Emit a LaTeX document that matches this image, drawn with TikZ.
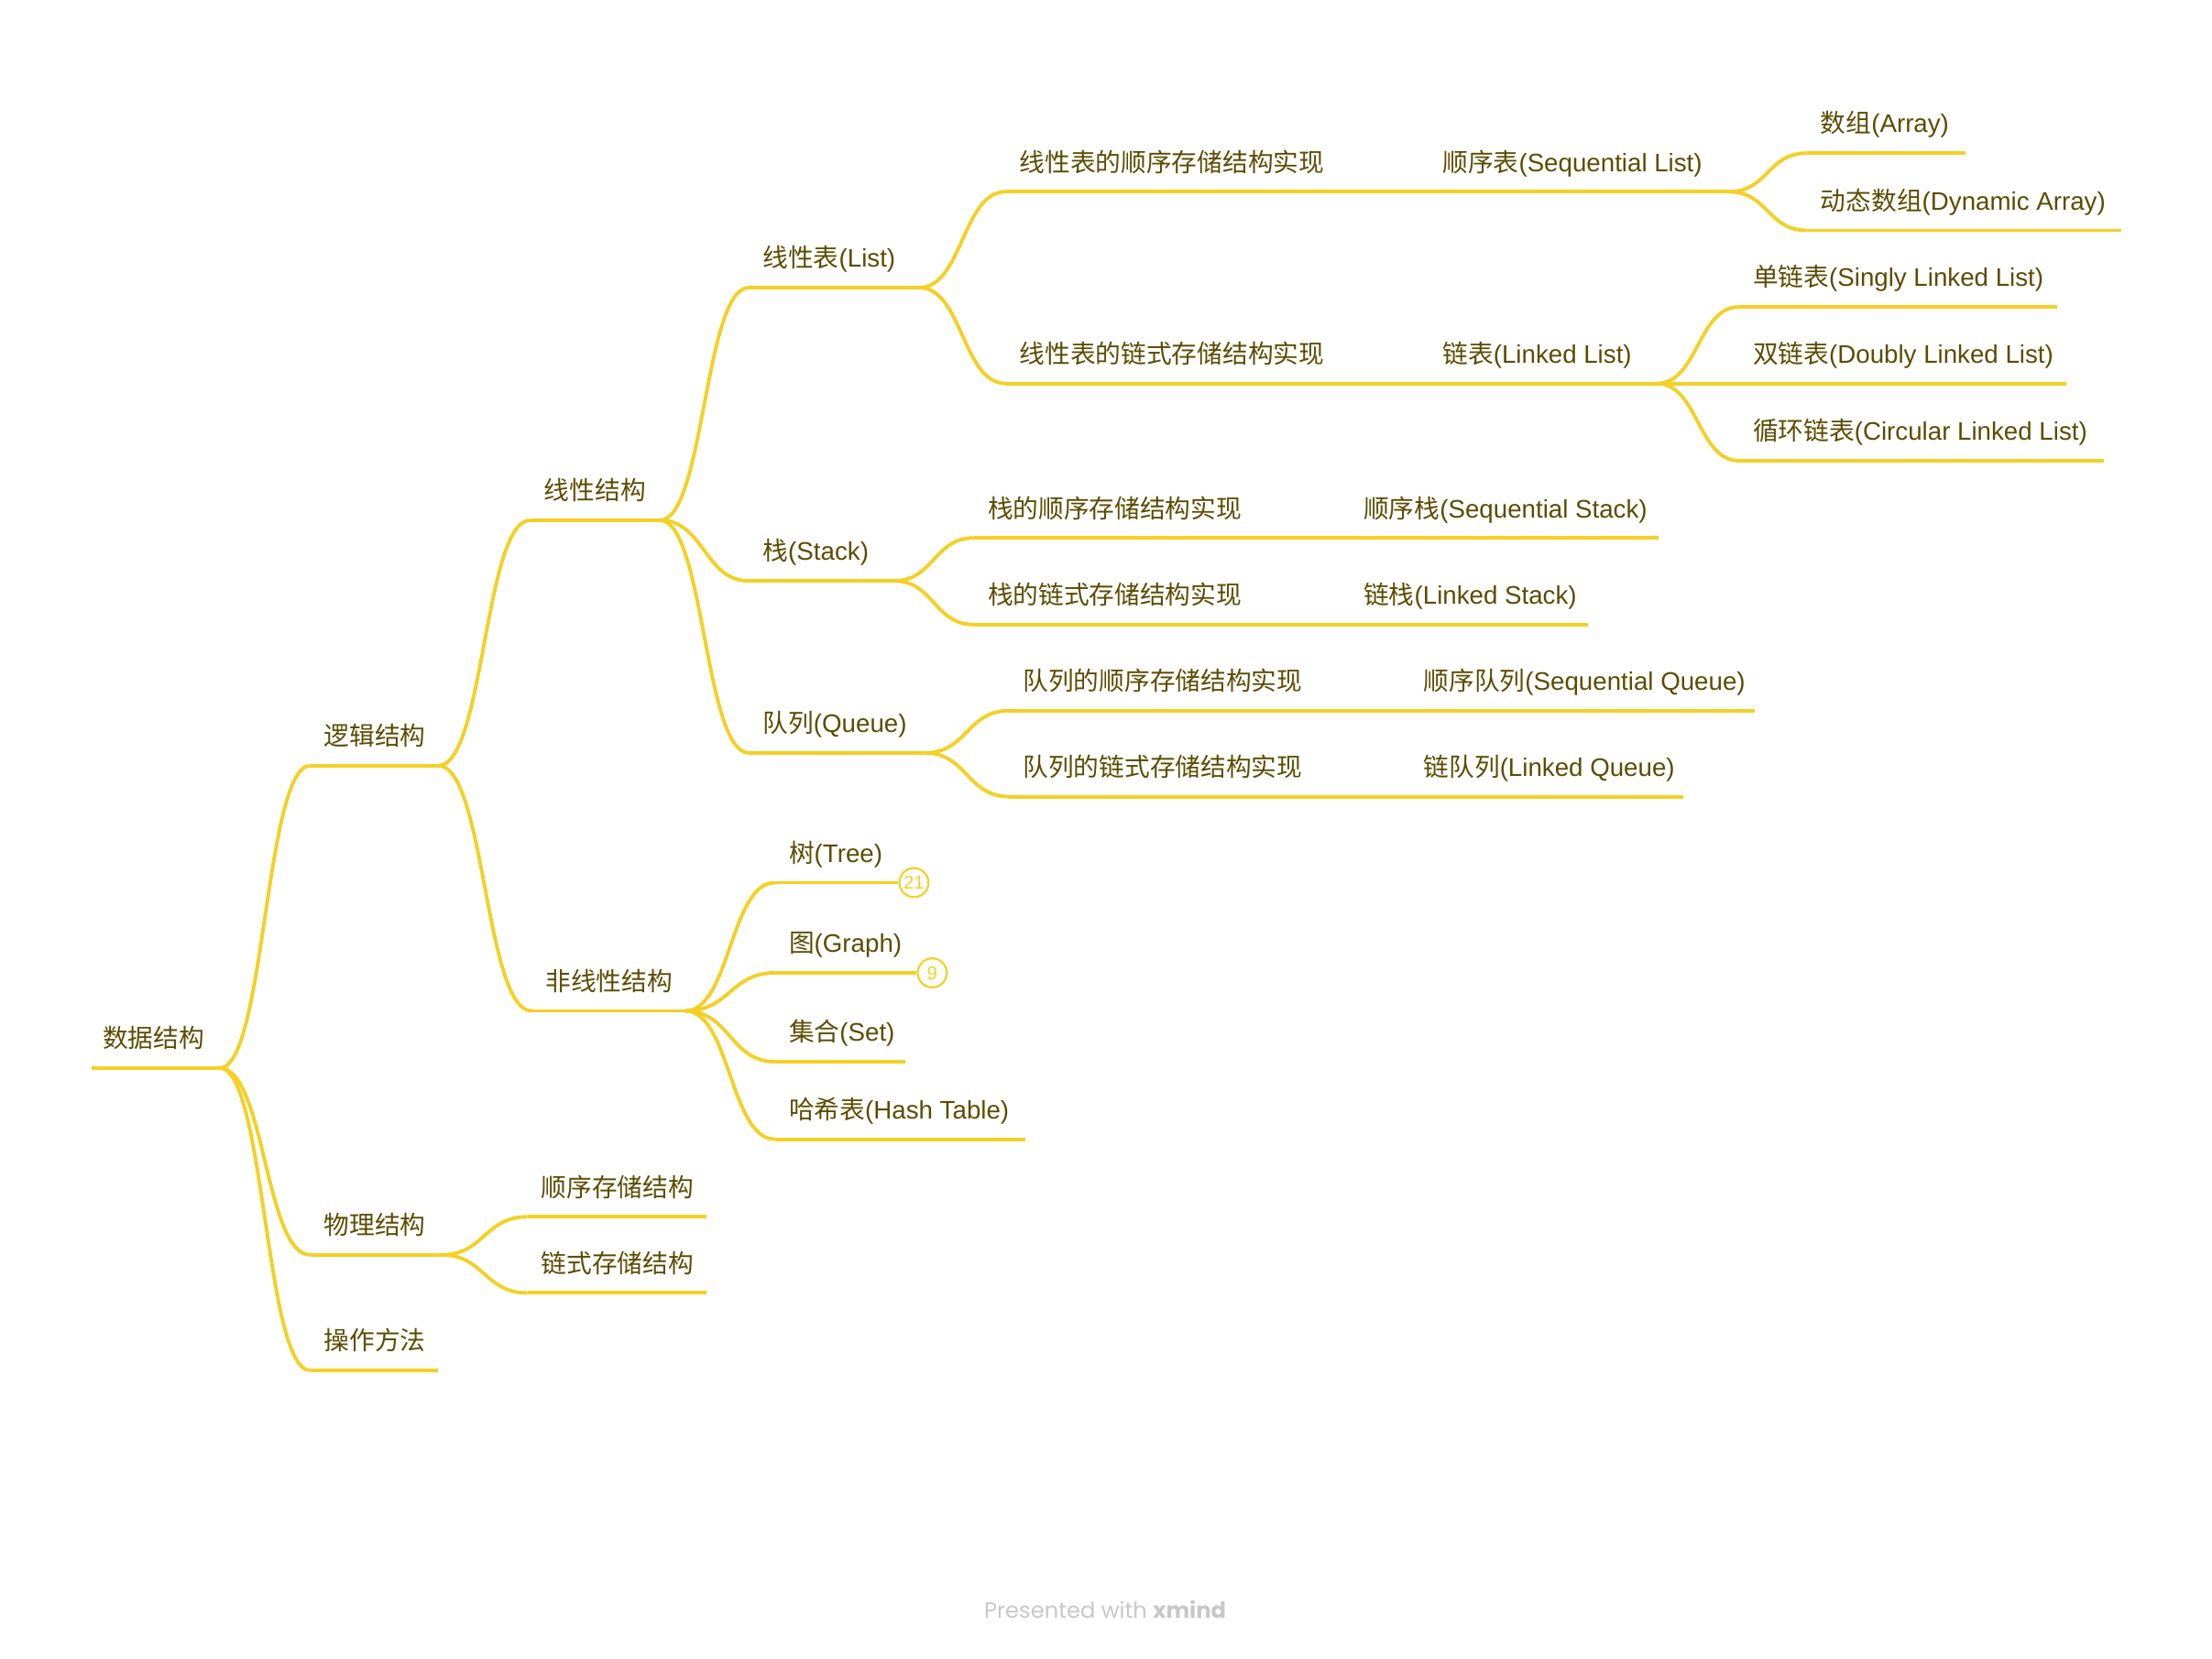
\documentclass[tikz,border=0pt]{standalone}
\usepackage{fontspec}
\setmainfont{Liberation Sans}
\newfontfamily\cjk{Noto Sans CJK SC}
\newfontfamily\footfont{Poppins}
\usetikzlibrary{calc}
\definecolor{txt}{RGB}{92,76,0}
\definecolor{ln}{RGB}{244,208,36}
\definecolor{foot}{RGB}{200,200,200}
\newcommand\zh[1]{{\cjk #1}}
\tikzset{
  topic/.style={anchor=south west, inner xsep=4.75pt, inner ysep=0pt,
    text depth=7pt, text height=10pt, font=\fontsize{9}{11}\selectfont, text=txt},
  ul/.style={draw=ln, line width=1.25pt},
  badge/.style={circle, draw=ln, line width=0.7pt, fill=white, minimum size=10.3pt,
    inner sep=0pt, text=ln, font=\fontsize{6.6}{7}\selectfont},
}
\newcommand\mmtopic[5]{%
  \pgfmathsetmacro\mmw{(#3-#2-19)*0.5}%
  \node[topic] (#1) at (#2,#4) {\makebox[\mmw pt][l]{#5}};%
}
\newcommand\mmul[1]{\draw[ul] (#1.south west) -- (#1.south east);}
\newcommand\mmlink[2]{\draw[ul] let \p1=(#1.south east), \p2=(#2.south west) in
  (\p1) .. controls ($(\p1)+({(\x2-\x1)/2},0pt)$) and ($(\p2)+({(\x1-\x2)/2},0pt)$) .. (\p2);}
\begin{document}
\begin{tikzpicture}[x=0.5pt,y=-0.5pt]
\fill[white] (0,0) rectangle (1568.4,1176);
\useasboundingbox (0,0) rectangle (1568.4,1176);
% root and level 1
\mmtopic{root}{65}{155}{757.5}{\hspace{-1pt}\zh{数据结构}}
\mmtopic{logic}{220}{310}{543}{\zh{逻辑结构}}
\mmtopic{phys}{220}{312}{890}{\zh{物理结构}}
\mmtopic{ops}{220}{310}{972}{\zh{操作方法}}
% level 2
\mmtopic{lin}{376}{467}{369}{\zh{线性结构}}
\mmtopic{nonlin}{377}{485}{717}{\zh{非线性结构}}
\mmtopic{seqst}{374}{500}{863}{\zh{顺序存储结构}}
\mmtopic{linkst}{374}{500}{917}{\zh{链式存储结构}}
% level 3
\mmtopic{list}{531}{651}{204}{\zh{线性表}(List)}
\mmtopic{stack}{531}{633}{412}{\zh{栈}(Stack)}
\mmtopic{queue}{531}{655}{534}{\zh{队列}(Queue)}
\mmtopic{tree}{549.5}{634}{626}{\zh{树}(Tree)}
\mmtopic{graph}{549.5}{647}{690}{\zh{图}(Graph)}
\mmtopic{set}{549.5}{641}{753}{\zh{集合}(Set)}
\mmtopic{hash}{549.5}{726}{808}{\zh{哈希表}(Hash Table)}
% level 4
\mmtopic{lseq}{713}{948}{136}{\zh{线性表的顺序存储结构实现}}
\mmtopic{llink}{713}{948}{272}{\zh{线性表的链式存储结构实现}}
\mmtopic{sseq}{690.5}{890}{381.5}{\zh{栈的顺序存储结构实现}}
\mmtopic{slink}{690.5}{890}{443}{\zh{栈的链式存储结构实现}}
\mmtopic{qseq}{715.5}{932.5}{504}{\zh{队列的顺序存储结构实现}}
\mmtopic{qlink}{715.5}{932.5}{565}{\zh{队列的链式存储结构实现}}
% level 5
\mmtopic{seqlist}{1013}{1225}{136}{\zh{顺序表}(Sequential List)}
\mmtopic{linklist}{1013}{1174}{272}{\zh{链表}(Linked List)}
\mmtopic{seqstack}{957}{1175}{381.5}{\zh{顺序栈}(Sequential Stack)}
\mmtopic{linkstack}{957}{1125}{443}{\zh{链栈}(Linked Stack)}
\mmtopic{seqqueue}{999.5}{1243.5}{504}{\zh{顺序队列}(Sequential Queue)}
\mmtopic{linkqueue}{999.5}{1193}{565}{\zh{链队列}(Linked Queue)}
% level 6
\mmtopic{array}{1281}{1393}{108.6}{\zh{数组}(Array)}
\mmtopic{dynarr}{1281}{1503}{163.4}{\zh{动态数组}(Dynamic Array)}
\mmtopic{single}{1233}{1458}{217.7}{\zh{单链表}(Singly Linked List)}
\mmtopic{double}{1233}{1464.5}{272}{\zh{双链表}(Doubly Linked List)}
\mmtopic{circ}{1233}{1490.6}{326.8}{\zh{循环链表}(Circular Linked List)}
% underlines
\foreach \n in {root,logic,phys,ops,lin,nonlin,seqst,linkst,list,stack,queue,set,hash,
  lseq,llink,sseq,slink,qseq,qlink,seqlist,linklist,seqstack,linkstack,seqqueue,linkqueue,
  array,dynarr,single,double,circ}{\mmul{\n}}
% badges
\node[badge] (b21) at (648,626) {21};
\node[badge] (b9) at (661,690) {9};
\draw[ul] (tree.south west) -- (b21.west);
\draw[ul] (graph.south west) -- (b9.west);
% connectors
\mmlink{root}{logic}\mmlink{root}{phys}\mmlink{root}{ops}
\mmlink{logic}{lin}\mmlink{logic}{nonlin}
\mmlink{phys}{seqst}\mmlink{phys}{linkst}
\mmlink{lin}{list}\mmlink{lin}{stack}\mmlink{lin}{queue}
\mmlink{nonlin}{tree}\mmlink{nonlin}{graph}\mmlink{nonlin}{set}\mmlink{nonlin}{hash}
\mmlink{list}{lseq}\mmlink{list}{llink}
\mmlink{stack}{sseq}\mmlink{stack}{slink}
\mmlink{queue}{qseq}\mmlink{queue}{qlink}
\mmlink{lseq}{seqlist}\mmlink{llink}{linklist}
\mmlink{sseq}{seqstack}\mmlink{slink}{linkstack}
\mmlink{qseq}{seqqueue}\mmlink{qlink}{linkqueue}
\mmlink{seqlist}{array}\mmlink{seqlist}{dynarr}
\mmlink{linklist}{single}\mmlink{linklist}{double}\mmlink{linklist}{circ}
\node[font=\footfont\fontsize{7.85}{9}\selectfont, text=foot, anchor=base] (footer) at (783.6,1148) {Presented with \textbf{xmind}};
\end{tikzpicture}
\end{document}
